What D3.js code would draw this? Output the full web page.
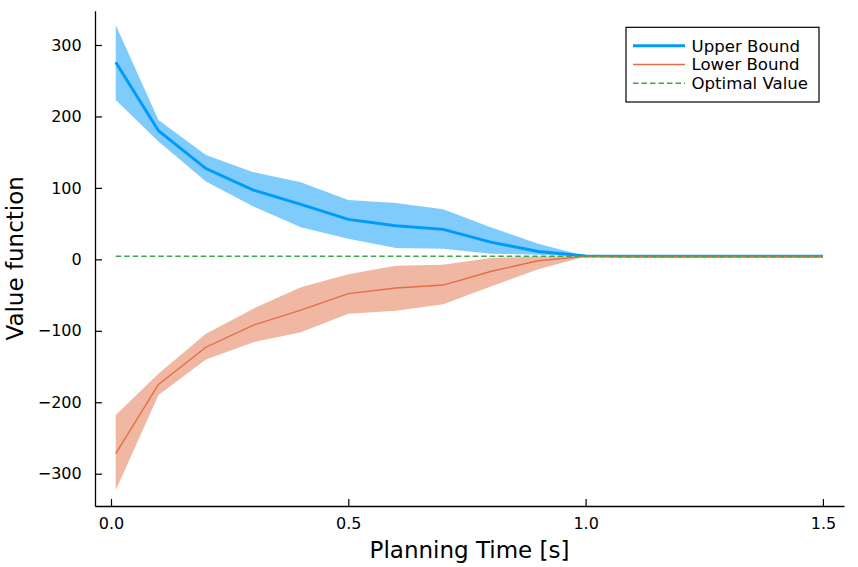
<!DOCTYPE html>
<html>
<head>
<meta charset="utf-8">
<script src="https://cdn.jsdelivr.net/npm/d3@7"></script>
<style>
    body { margin: 0; background: #fff; }
    text { font-family: "DejaVu Sans", sans-serif; }
</style>
</head>
<body>
<svg id="chart"></svg>
<script>
// Planning time samples
const times = [0.01, 0.1, 0.2, 0.3, 0.4, 0.5, 0.6, 0.7, 0.8, 0.9, 1.0, 1.1, 1.2, 1.3, 1.4, 1.5];

// Upper bound: mean and ribbon
const upperMean = [276, 180, 127, 97, 77, 56, 47, 42, 24, 11, 4.6, 4.3, 4.3, 4.3, 4.3, 4.3];
const upperHigh = [328, 195, 146, 122, 108, 83, 79, 70, 45, 22, 4.6, 4.3, 4.3, 4.3, 4.3, 4.3];
const upperLow  = [223, 165, 109, 74, 45, 29, 16, 15, 8, 6.5, 4.4, 4.3, 4.3, 4.3, 4.3, 4.3];

// Lower bound: mean and ribbon
const lowerMean = [-272, -175, -123, -92, -71, -48, -40, -36, -17, -2, 4.2, 4.3, 4.3, 4.3, 4.3, 4.3];
const lowerHigh = [-218, -160, -104, -69, -39, -21, -9, -7.5, 2, 4, 4.3, 4.3, 4.3, 4.3, 4.3, 4.3];
const lowerLow  = [-323, -190, -140, -116, -102, -76, -72, -63, -38, -14, 4.1, 4.3, 4.3, 4.3, 4.3, 4.3];

// Optimal value (constant)
const optimal = 4.3;

// Tick values
const xTicks = [0, 0.5, 1.0, 1.5];
const yTicks = [-300, -200, -100, 0, 100, 200, 300];

const legendNames = ["Upper Bound", "Lower Bound", "Optimal Value"];

let width = 858;
let height = 567;

let margin = { top: 10.7, right: 14, bottom: 61, left: 95 };

let svg = d3.select("#chart")
    .attr("width", width)
    .attr("height", height);

let xScale = d3.scaleLinear()
    .domain([-0.0337, 1.5444])
    .range([margin.left, width - margin.right]);

let yScale = d3.scaleLinear()
    .domain([-345.2, 348])
    .range([height - margin.bottom, margin.top]);

let blue = "#009afa", orange = "#e26f46", green = "#3ea44e";

let rows = times.map((t, i) => ({
    t: t,
    um: upperMean[i], uh: upperHigh[i], ul: upperLow[i],
    lm: lowerMean[i], lh: lowerHigh[i], ll: lowerLow[i]
}));

let area = (hi, lo) => d3.area()
    .x(d => xScale(d.t))
    .y0(d => yScale(d[lo]))
    .y1(d => yScale(d[hi]));

let line = key => d3.line()
    .x(d => xScale(d.t))
    .y(d => yScale(d[key]));

// Upper bound ribbon and line
svg.append("path")
    .datum(rows)
    .attr("d", area("uh", "ul"))
    .attr("fill", blue)
    .attr("fill-opacity", 0.5);

svg.append("path")
    .datum(rows)
    .attr("d", line("um"))
    .attr("fill", "none")
    .attr("stroke", blue)
    .attr("stroke-width", 2.9);

// Lower bound ribbon and line
svg.append("path")
    .datum(rows)
    .attr("d", area("lh", "ll"))
    .attr("fill", orange)
    .attr("fill-opacity", 0.5);

svg.append("path")
    .datum(rows)
    .attr("d", line("lm"))
    .attr("fill", "none")
    .attr("stroke", orange)
    .attr("stroke-width", 1.4);

// Optimal value
svg.append("line")
    .attr("x1", xScale(times[0]))
    .attr("x2", xScale(times[times.length - 1]))
    .attr("y1", yScale(optimal))
    .attr("y2", yScale(optimal))
    .attr("stroke", green)
    .attr("stroke-width", 1.4)
    .attr("stroke-dasharray", "5.5,3");

// Axes (ticks pointing inward)
let xAxis = svg.append("g")
    .attr("transform", `translate(0, ${height - margin.bottom})`)
    .call(d3.axisBottom(xScale)
        .tickValues(xTicks)
        .tickFormat(d3.format(".1f"))
        .tickSizeInner(-7)
        .tickSizeOuter(0)
        .tickPadding(11.3));

let yAxis = svg.append("g")
    .attr("transform", `translate(${margin.left}, 0)`)
    .call(d3.axisLeft(yScale)
        .tickValues(yTicks)
        .tickFormat(d => d < 0 ? "\u2212" + Math.abs(d) : d)
        .tickSizeInner(-7)
        .tickSizeOuter(0)
        .tickPadding(13.3));

[xAxis, yAxis].forEach(g => {
    g.attr("font-size", null).attr("font-family", null);
    g.select(".domain").attr("stroke", "#000").attr("stroke-width", 1.3);
    g.selectAll(".tick line").attr("stroke", "#000").attr("stroke-width", 1.2);
    g.selectAll(".tick text")
        .attr("fill", "#000")
        .style("font-family", "DejaVu Sans")
        .style("font-size", "16px");
});

// Axis labels
svg.append("text")
    .attr("x", (margin.left + width - margin.right) / 2)
    .attr("y", 557.5)
    .attr("text-anchor", "middle")
    .style("font-size", "23px")
    .text("Planning Time [s]");

svg.append("text")
    .attr("transform", `translate(23, ${(margin.top + height - margin.bottom) / 2}) rotate(-90)`)
    .attr("text-anchor", "middle")
    .style("font-size", "23px")
    .text("Value function");

// Legend
let legend = svg.append("g");

legend.append("rect")
    .attr("x", 626)
    .attr("y", 27.3)
    .attr("width", 193)
    .attr("height", 74.7)
    .attr("fill", "#fff")
    .attr("stroke", "#000")
    .attr("stroke-width", 1.2);

let legendStyle = [
    { color: blue, w: 2.9, dash: null },
    { color: orange, w: 1.4, dash: null },
    { color: green, w: 1.4, dash: "5.5,3" }
];

legendNames.forEach((name, i) => {
    let y = 45.7 + i * 18.8;
    legend.append("line")
        .attr("x1", 633)
        .attr("x2", 685)
        .attr("y1", y)
        .attr("y2", y)
        .attr("stroke", legendStyle[i].color)
        .attr("stroke-width", legendStyle[i].w)
        .attr("stroke-dasharray", legendStyle[i].dash);
    legend.append("text")
        .attr("x", 691.5)
        .attr("y", y)
        .attr("dy", "0.36em")
        .style("font-size", "16.6px")
        .text(name);
});
</script>
</body>
</html>
